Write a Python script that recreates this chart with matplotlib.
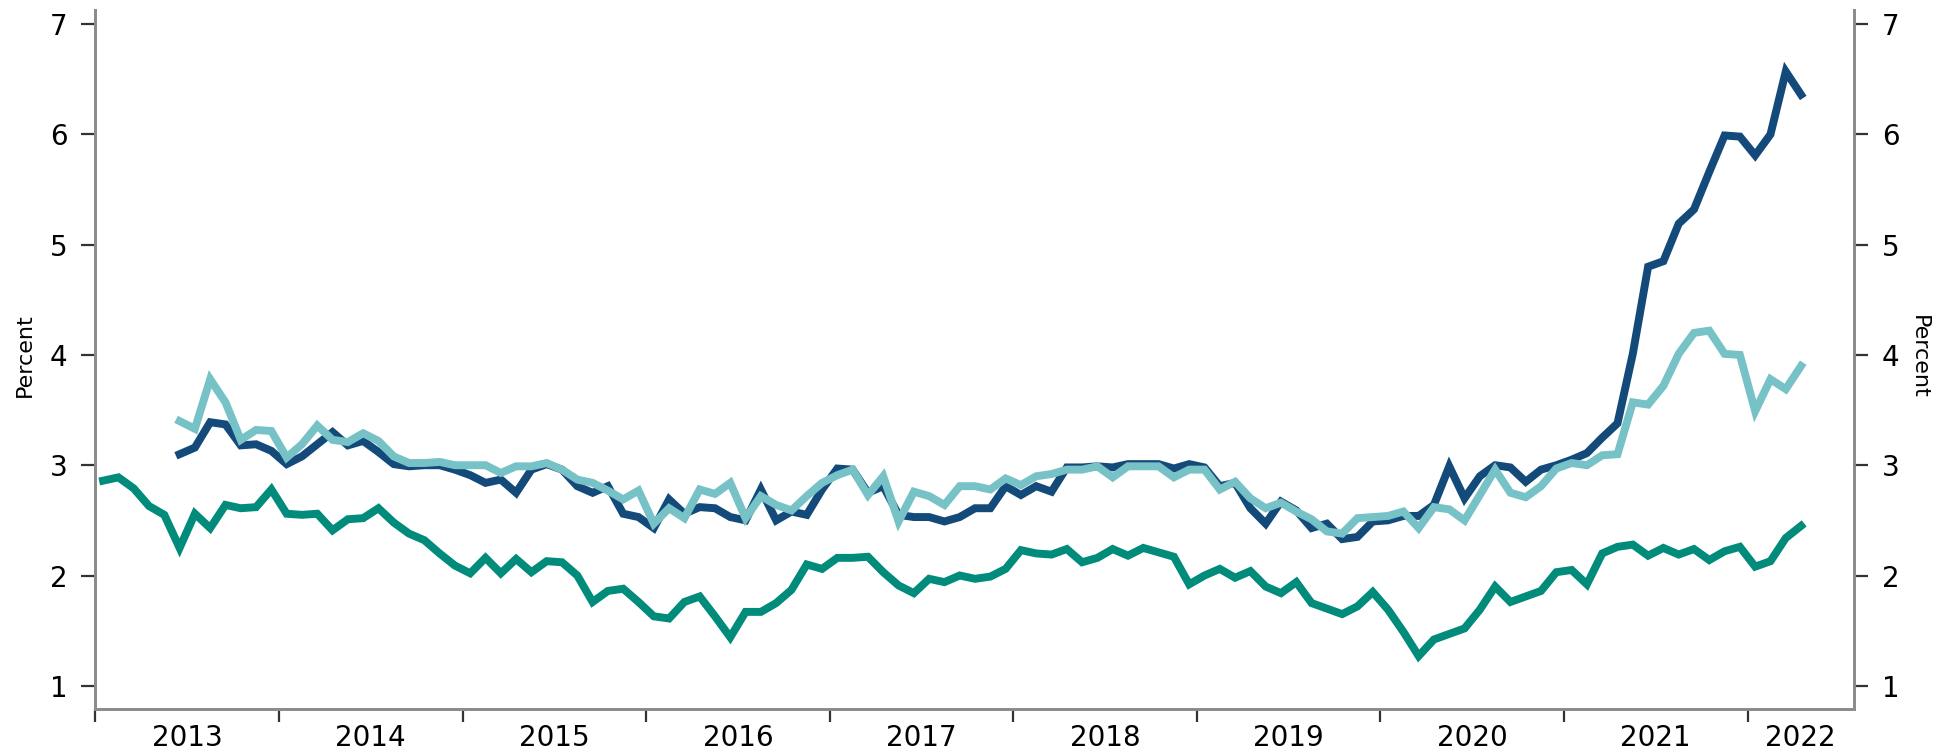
import matplotlib.pyplot as plt
import numpy as np
import pandas as pd

plt.rcParams['font.family'] = ['DejaVu Sans']

# monthly data, Jan 2013 - Apr 2022
green = [2.86, 2.89, 2.79, 2.63, 2.55, 2.25, 2.56, 2.43, 2.64, 2.61, 2.62, 2.78,
         2.56, 2.55, 2.56, 2.41, 2.51, 2.52, 2.61, 2.48, 2.38,
         2.32, 2.20, 2.09, 2.02, 2.16, 2.02, 2.15, 2.03, 2.13, 2.12, 2.00, 1.76,
         1.86, 1.88, 1.76, 1.63, 1.61, 1.76, 1.81, 1.63, 1.44,
         1.67, 1.67, 1.75, 1.87, 2.10, 2.06, 2.16, 2.16, 2.17, 2.03, 1.91, 1.84,
         1.97, 1.94, 2.00, 1.97, 1.99, 2.06, 2.23,
         2.20, 2.19, 2.24, 2.12, 2.16, 2.24, 2.18, 2.25, 2.21, 2.17, 1.92, 2.00,
         2.06, 1.98, 2.04, 1.90, 1.84, 1.94, 1.75, 1.70,
         1.65, 1.72, 1.85, 1.69, 1.49, 1.27, 1.42, 1.47, 1.52, 1.69, 1.90, 1.76,
         1.81, 1.86, 2.03, 2.05, 1.92, 2.20, 2.26,
         2.28, 2.18, 2.25, 2.19, 2.24, 2.14, 2.22, 2.26, 2.08, 2.13, 2.34, 2.45]

# Jun 2013 - Apr 2022
dark_blue = [3.10, 3.16, 3.39, 3.37, 3.18, 3.19, 3.13, 3.01, 3.08, 3.19, 3.30,
             3.18, 3.22, 3.12, 3.01, 2.99,
             3.00, 3.00, 2.96, 2.91, 2.84, 2.87, 2.75, 2.96, 3.01, 2.96, 2.81,
             2.75, 2.81, 2.56, 2.53, 2.43, 2.69, 2.56, 2.62, 2.61, 2.53,
             2.50, 2.78, 2.50, 2.58, 2.55, 2.78, 2.97, 2.96, 2.75, 2.81, 2.55,
             2.53, 2.53, 2.49, 2.53, 2.61, 2.61, 2.81, 2.73,
             2.81, 2.76, 2.98, 2.98, 2.99, 2.98, 3.01, 3.01, 3.01, 2.97, 3.01,
             2.98, 2.81, 2.84, 2.61, 2.47, 2.67, 2.59, 2.43, 2.47,
             2.33, 2.35, 2.49, 2.50, 2.54, 2.54, 2.64, 2.99, 2.70, 2.90, 3.00,
             2.98, 2.85, 2.96, 3.00, 3.05, 3.11,
             3.25, 3.38, 4.01, 4.80, 4.85, 5.19, 5.32, 5.66, 5.99, 5.98, 5.81,
             6.00, 6.57, 6.36]

light_blue = [3.40, 3.33, 3.78, 3.57, 3.23, 3.32, 3.31, 3.07, 3.19, 3.36, 3.23,
              3.21, 3.29, 3.22, 3.08, 3.02,
              3.02, 3.03, 3.00, 3.00, 3.00, 2.93, 2.99, 2.99, 3.02, 2.96, 2.87,
              2.84, 2.77, 2.69, 2.77, 2.47, 2.61, 2.52, 2.78, 2.74, 2.84,
              2.52, 2.72, 2.64, 2.59, 2.72, 2.84, 2.91, 2.96, 2.73, 2.90, 2.49,
              2.76, 2.72, 2.64, 2.81, 2.81, 2.78, 2.88, 2.82,
              2.90, 2.92, 2.96, 2.96, 2.99, 2.89, 2.99, 2.99, 2.99, 2.89, 2.96,
              2.96, 2.78, 2.85, 2.70, 2.61, 2.66, 2.58, 2.51, 2.40,
              2.38, 2.52, 2.53, 2.54, 2.58, 2.43, 2.62, 2.60, 2.50, 2.73, 2.96,
              2.75, 2.71, 2.81, 2.97, 3.02, 3.00,
              3.09, 3.10, 3.57, 3.55, 3.72, 4.01, 4.20, 4.22, 4.01, 4.00, 3.49,
              3.78, 3.69, 3.90]

years = list(range(2013, 2023))

# fractional-year positions, plotted mid-month
dates_g = pd.date_range('2013-01-01', periods=len(green), freq='MS')
x_g = dates_g.year + (dates_g.month - 0.5) / 12
dates_b = pd.date_range('2013-06-01', periods=len(dark_blue), freq='MS')
x_b = dates_b.year + (dates_b.month - 0.5) / 12

C_GREEN = '#008b7a'
C_DARK = '#134a7a'
C_LIGHT = '#77c2c7'
SPINE = '#8c8c8c'

fig = plt.figure(figsize=(19.44, 7.51), dpi=100)
ax = fig.add_axes([0.0491, 0.056, 0.9046, 0.931])

ax.plot(x_g, green, color=C_GREEN, lw=5.7, solid_joinstyle='miter', zorder=2)
ax.plot(x_b, dark_blue, color=C_DARK, lw=5.7, solid_joinstyle='miter', zorder=3)
ax.plot(x_b, light_blue, color=C_LIGHT, lw=5.7, solid_joinstyle='miter', zorder=4)

XMAX = 2022.58
ax.set_xlim(2013, XMAX)
ax.set_ylim(0.79, 7.13)

# year boundaries as ticks, labels centred in each year
ax.set_xticks(years)
ax.set_xticklabels([])
mids = [y + 0.5 for y in years[:-1]] + [(years[-1] + XMAX) / 2]
ax.set_xticks(mids, minor=True)
ax.set_xticklabels([str(y) for y in years], minor=True, fontsize=20)
ax.tick_params(axis='x', which='major', length=9, width=1.6, color='#333333', direction='out')
ax.tick_params(axis='x', which='minor', length=0, pad=11)

yt = [1, 2, 3, 4, 5, 6, 7]
ax.set_yticks(yt)
ax.set_yticklabels([str(v) for v in yt], fontsize=20)
ax.tick_params(axis='y', length=10, width=1.6, color='#333333', pad=10)

ax2 = ax.twinx()
ax2.set_ylim(ax.get_ylim())
ax2.set_yticks(yt)
ax2.set_yticklabels([str(v) for v in yt], fontsize=20)
ax2.tick_params(axis='y', length=10, width=1.6, color='#333333', pad=10)

for a in (ax, ax2):
    a.spines['top'].set_visible(False)
    for s in ('left', 'right', 'bottom'):
        a.spines[s].set_color(SPINE)
        a.spines[s].set_linewidth(2)

ax.set_ylabel('Percent', fontsize=16)
ax.yaxis.set_label_coords(-0.0344, 0.506)
ax2.set_ylabel('Percent', fontsize=16, rotation=270, va='bottom')
ax2.yaxis.set_label_coords(1.0313, 0.503)

fig.savefig('out.png', dpi=100)
